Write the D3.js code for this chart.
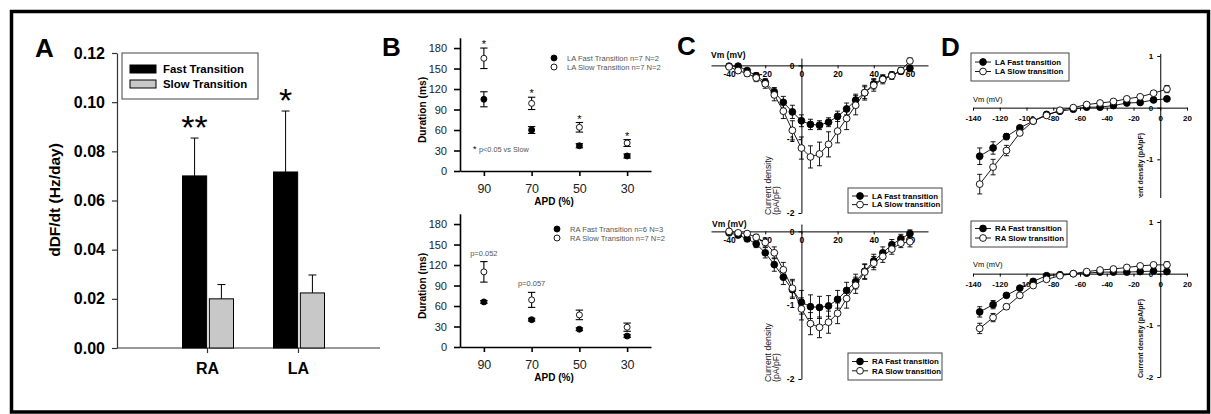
<!DOCTYPE html>
<html><head><meta charset="utf-8">
<script src="https://cdn.jsdelivr.net/npm/d3@7"></script>
<style>body{margin:0;background:#fff}svg{display:block}</style>
</head><body><svg id="c" width="1211" height="414"></svg>
<script>
// ---------- DATA ----------
const barCategories = ["RA", "LA"];
const barSeries = ["Fast Transition", "Slow Transition"];
const barFast = [0.0700, 0.0716];
const barFastErr = [0.0154, 0.0248];
const barSlow = [0.0200, 0.0224];
const barSlowErr = [0.0058, 0.0073];
const barYTicks = [0, 0.02, 0.04, 0.06, 0.08, 0.10, 0.12];
const barStars = ["**", "*"];

const apdCategories = [90, 70, 50, 30];
const apdYTicks = [0, 30, 60, 90, 120, 150, 180];
const laApdFast = [105, 60, 37, 22];
const laApdFastErr = [11, 5, 3, 3];
const laApdSlow = [165, 99, 64, 41];
const laApdSlowErr = [15, 9, 7, 5];
const laApdStars = ["*", "*", "*", "*"];
const laApdLegend = ["LA Fast Transition n=7 N=2", "LA Slow Transition n=7 N=2"];
const raApdFast = [66, 40, 26, 16];
const raApdFastErr = [2, 2, 2, 2];
const raApdSlow = [110, 69, 47, 29];
const raApdSlowErr = [15, 11, 7, 6];
const raApdNotes = ["p=0.052", "p=0.057", "", ""];
const raApdLegend = ["RA Fast Transition n=6 N=3", "RA Slow Transition n=7 N=2"];

const naVoltages = [-40, -35, -30, -25, -20, -15, -10, -5, 0, 5, 10, 15, 20, 25, 30, 35, 40, 45, 50, 55, 60];
const naXTicks = [-40, -20, 0, 20, 40, 60];
const naYTicks = [0, -1, -2];
const laNaFast = [-0.01, -0.01, -0.07, -0.14, -0.23, -0.36, -0.50, -0.63, -0.75, -0.80, -0.81, -0.77, -0.69, -0.59, -0.47, -0.37, -0.25, -0.18, -0.13, -0.08, -0.04];
const laNaFastErr = [0.02, 0.02, 0.03, 0.04, 0.05, 0.06, 0.08, 0.09, 0.08, 0.07, 0.06, 0.06, 0.07, 0.08, 0.08, 0.08, 0.07, 0.05, 0.04, 0.04, 0.03];
const laNaSlow = [-0.02, -0.07, -0.11, -0.17, -0.25, -0.40, -0.62, -0.88, -1.12, -1.24, -1.20, -1.07, -0.89, -0.72, -0.54, -0.37, -0.27, -0.19, -0.14, -0.07, 0.06];
const laNaSlowErr = [0.02, 0.03, 0.04, 0.05, 0.06, 0.08, 0.10, 0.13, 0.15, 0.15, 0.16, 0.17, 0.16, 0.15, 0.13, 0.10, 0.08, 0.06, 0.05, 0.04, 0.04];
const laNaLegend = ["LA Fast transition", "LA Slow transition"];
const raNaFast = [-0.02, -0.05, -0.10, -0.17, -0.29, -0.45, -0.62, -0.79, -0.96, -1.02, -1.03, -1.01, -0.92, -0.80, -0.68, -0.54, -0.40, -0.29, -0.18, -0.10, -0.03];
const raNaFastErr = [0.02, 0.03, 0.04, 0.05, 0.07, 0.09, 0.10, 0.12, 0.16, 0.16, 0.15, 0.14, 0.12, 0.11, 0.10, 0.10, 0.09, 0.08, 0.07, 0.06, 0.05];
const raNaSlow = [0.00, -0.02, -0.03, -0.08, -0.15, -0.29, -0.52, -0.77, -1.05, -1.25, -1.30, -1.23, -1.11, -0.91, -0.73, -0.55, -0.43, -0.34, -0.24, -0.16, -0.14];
const raNaSlowErr = [0.02, 0.02, 0.03, 0.04, 0.06, 0.08, 0.10, 0.12, 0.15, 0.15, 0.14, 0.15, 0.14, 0.13, 0.11, 0.10, 0.09, 0.08, 0.07, 0.06, 0.07];
const raNaLegend = ["RA Fast transition", "RA Slow transition"];

const kVoltages = [-135, -125, -115, -105, -95, -85, -75, -65, -55, -45, -35, -25, -15, -5, 5];
const kXTicks = [-140, -120, -100, -80, -60, -40, -20, 0, 20];
const kYTicks = [1, 0, -1, -2];
const laKFast = [-0.94, -0.78, -0.56, -0.39, -0.26, -0.13, -0.07, -0.03, 0.01, 0.01, 0.04, 0.09, 0.10, 0.15, 0.17];
const laKFastErr = [0.16, 0.12, 0.06, 0.04, 0.03, 0.03, 0.02, 0.02, 0.02, 0.02, 0.02, 0.02, 0.02, 0.02, 0.03];
const laKSlow = [-1.48, -1.15, -0.83, -0.49, -0.26, -0.15, -0.05, 0.00, 0.06, 0.09, 0.12, 0.17, 0.21, 0.28, 0.36];
const laKSlowErr = [0.19, 0.15, 0.10, 0.05, 0.03, 0.03, 0.02, 0.02, 0.02, 0.02, 0.02, 0.03, 0.03, 0.05, 0.07];
const laKLegend = ["LA Fast transition", "LA Slow transition"];
const raKFast = [-0.74, -0.60, -0.42, -0.28, -0.15, -0.04, -0.02, 0.00, 0.01, 0.03, 0.03, 0.03, 0.04, 0.05, 0.04];
const raKFastErr = [0.10, 0.08, 0.04, 0.03, 0.02, 0.02, 0.02, 0.02, 0.02, 0.02, 0.02, 0.02, 0.02, 0.02, 0.02];
const raKSlow = [-1.06, -0.85, -0.64, -0.42, -0.23, -0.11, -0.04, 0.00, 0.04, 0.07, 0.09, 0.12, 0.15, 0.17, 0.17];
const raKSlowErr = [0.10, 0.08, 0.05, 0.04, 0.03, 0.02, 0.02, 0.02, 0.02, 0.02, 0.02, 0.03, 0.03, 0.04, 0.06];
const raKLegend = ["RA Fast transition", "RA Slow transition"];

// ---------- DRAWING ----------
const FONT = '"Liberation Sans", Arial, Helvetica, sans-serif';
const svg = d3.select("#c").attr("font-family", FONT);
svg.append("rect").attr("width", 1211).attr("height", 414).attr("fill", "#fff");

function styleAxis(sel, size, weight, color, stroke, sw) {
  sel.attr("font-family", FONT).attr("font-size", size).attr("font-weight", weight);
  sel.selectAll("text").attr("fill", color);
  sel.selectAll("line,path").attr("stroke", stroke).attr("stroke-width", sw);
}

// panel letters
[["A", 35, 57], ["B", 382, 56], ["C", 677, 55], ["D", 941, 56]].forEach(([t, x, y]) => {
  svg.append("text").attr("x", x).attr("y", y).attr("font-size", 26).attr("font-weight", "bold").text(t);
});

// ===== Panel A =====
(function () {
  const g = svg.append("g");
  const y = d3.scaleLinear().domain([0, 0.12]).range([348, 53]);
  const x = d3.scalePoint().domain(barCategories).range([207, 298]);
  const sub = d3.scaleBand().domain(barSeries).range([-24.5, 26.5]).paddingInner(0.1);
  const bw = sub.bandwidth();

  g.append("line").attr("x1", 117).attr("x2", 380).attr("y1", 348).attr("y2", 348).attr("stroke", "#333").attr("stroke-width", 1.2);
  const ya = g.append("g").attr("transform", "translate(117,0)")
    .call(d3.axisLeft(y).tickValues(barYTicks).tickFormat(d3.format(".2f")).tickSize(5).tickSizeOuter(0).tickPadding(7));
  styleAxis(ya, 16, "bold", "#000", "#333", 1.2);
  const xa = g.append("g").attr("transform", "translate(0,348)")
    .call(d3.axisBottom(x).tickSize(5).tickSizeOuter(0).tickPadding(10));
  xa.select(".domain").remove();
  styleAxis(xa, 16, "bold", "#000", "#333", 1.2);

  const series = [
    { name: barSeries[0], vals: barFast, errs: barFastErr, fill: "#000" },
    { name: barSeries[1], vals: barSlow, errs: barSlowErr, fill: "#c8c8c8" }
  ];
  series.forEach(s => {
    barCategories.forEach((c, i) => {
      const x0 = x(c) + sub(s.name);
      const cx = x0 + bw / 2;
      g.append("line").attr("x1", cx).attr("x2", cx).attr("y1", y(s.vals[i])).attr("y2", y(s.vals[i] + s.errs[i])).attr("stroke", "#000");
      g.append("line").attr("x1", cx - 4).attr("x2", cx + 4).attr("y1", y(s.vals[i] + s.errs[i])).attr("y2", y(s.vals[i] + s.errs[i])).attr("stroke", "#000");
      g.append("rect").attr("x", x0).attr("y", y(s.vals[i])).attr("width", bw).attr("height", y(0) - y(s.vals[i]))
        .attr("fill", s.fill).attr("stroke", "#000").attr("stroke-width", 1);
    });
  });
  barCategories.forEach((c, i) => {
    g.append("text").attr("x", x(c) + sub(barSeries[0]) + bw / 2).attr("y", y(barFast[i] + barFastErr[i]) + 1)
      .attr("text-anchor", "middle").attr("font-size", 34).text(barStars[i]);
  });
  // legend
  g.append("rect").attr("x", 122).attr("y", 53).attr("width", 136).attr("height", 46).attr("fill", "#fff").attr("stroke", "#444");
  series.forEach((s, i) => {
    g.append("rect").attr("x", 130).attr("y", 65 + i * 15).attr("width", 26).attr("height", 8).attr("fill", s.fill).attr("stroke", "#000");
    g.append("text").attr("x", 163).attr("y", 73 + i * 15).attr("font-size", 11.4).attr("font-weight", "bold").text(s.name);
  });
  g.append("text").attr("transform", "translate(60,200) rotate(-90)").attr("text-anchor", "middle")
    .attr("font-size", 15.5).attr("font-weight", "bold").text("dDF/dt (Hz/day)");
})();

// ===== Panel B =====
function apdPanel(o) {
  const g = svg.append("g");
  const x = d3.scaleLinear().domain([100, 20]).range([460, 651]);
  const y = d3.scaleLinear().domain([0, 195]).range([o.y0, o.y0 - 133.2]);
  const ya = g.append("g").attr("transform", "translate(460,0)")
    .call(d3.axisLeft(y).tickValues(apdYTicks).tickSize(6).tickSizeOuter(0).tickPadding(7));
  styleAxis(ya, 11, "normal", "#222", "#000", 1.6);
  const xa = g.append("g").attr("transform", `translate(0,${o.y0})`)
    .call(d3.axisBottom(x).tickValues(apdCategories).tickSize(5).tickSizeOuter(0).tickPadding(8));
  styleAxis(xa, 12.5, "normal", "#222", "#000", 1.6);
  g.append("text").attr("x", 554).attr("y", o.y0 + 34).attr("text-anchor", "middle").attr("font-size", 10).attr("font-weight", "bold").text("APD (%)");
  g.append("text").attr("transform", `translate(425.6,${o.y0 - 61}) rotate(-90)`).attr("text-anchor", "middle")
    .attr("font-size", 10.2).attr("font-weight", "bold").text("Duration (ms)");

  const series = [
    { vals: o.slow, errs: o.slowErr, fill: "#fff" },
    { vals: o.fast, errs: o.fastErr, fill: "#000" }
  ];
  series.forEach(s => {
    apdCategories.forEach((c, i) => {
      const cx = x(c), lo = y(s.vals[i] - s.errs[i]), hi = y(s.vals[i] + s.errs[i]);
      g.append("line").attr("x1", cx).attr("x2", cx).attr("y1", lo).attr("y2", hi).attr("stroke", "#000").attr("stroke-width", 1.1);
      [lo, hi].forEach(v => g.append("line").attr("x1", cx - 3.7).attr("x2", cx + 3.7).attr("y1", v).attr("y2", v).attr("stroke", "#000").attr("stroke-width", 1.1));
    });
  });
  series.forEach(s => {
    apdCategories.forEach((c, i) => {
      g.append("circle").attr("cx", x(c)).attr("cy", y(s.vals[i])).attr("r", 3).attr("fill", s.fill).attr("stroke", "#000").attr("stroke-width", 0.9);
    });
  });
  apdCategories.forEach((c, i) => {
    const top = y(o.slow[i] + o.slowErr[i]);
    if (o.stars && o.stars[i]) g.append("text").attr("x", x(c)).attr("y", top).attr("text-anchor", "middle").attr("font-size", 11).text(o.stars[i]);
    if (o.notes && o.notes[i]) g.append("text").attr("x", x(c)).attr("y", top - 6).attr("text-anchor", "middle").attr("font-size", 7.5).attr("fill", "#555").text(o.notes[i]);
  });
  // legend
  [["#000", 0], ["#fff", 1]].forEach(([f, i]) => {
    g.append("circle").attr("cx", o.lx).attr("cy", o.ly + i * 9).attr("r", 3).attr("fill", f).attr("stroke", "#000").attr("stroke-width", 0.9);
    g.append("text").attr("x", o.tx).attr("y", o.ly + i * 9 + 2.7).attr("font-size", 7.6).attr("fill", "#555").text(o.legend[i]);
  });
  if (o.sig) {
    const t = g.append("text").attr("x", 473).attr("y", 152).attr("font-size", 7.3);
    t.append("tspan").attr("font-size", 9).attr("fill", "#000").text("* ");
    t.append("tspan").attr("fill", "#555").text(o.sig);
  }
}
apdPanel({ y0: 171, fast: laApdFast, fastErr: laApdFastErr, slow: laApdSlow, slowErr: laApdSlowErr, stars: laApdStars,
  legend: laApdLegend, lx: 554, ly: 58, tx: 567, sig: "p<0.05 vs Slow" });
apdPanel({ y0: 347, fast: raApdFast, fastErr: raApdFastErr, slow: raApdSlow, slowErr: raApdSlowErr, notes: raApdNotes,
  legend: raApdLegend, lx: 557, ly: 229, tx: 570 });

// ===== Panels C / D (I-V curves) =====
const defs = svg.append("defs");
defs.append("clipPath").attr("id", "clipDtop").append("rect").attr("x", 930).attr("y", 14).attr("width", 270).attr("height", 184);

function ivPanel(o) {
  const g = svg.append("g");
  if (o.clip) g.attr("clip-path", `url(#${o.clip})`);
  const x = d3.scaleLinear().domain(o.xDomain).range(o.xRange);
  const y = d3.scaleLinear().domain(o.yDomain).range(o.yRange);
  const xa = g.append("g").attr("transform", `translate(0,${y(0)})`)
    .call(d3.axisBottom(x).tickValues(o.xTicks).tickFormat(String).tickSize(3).tickSizeOuter(0).tickPadding(o.xPad));
  styleAxis(xa, o.tickFont, "bold", "#000", "#000", 1);
  const ya = g.append("g").attr("transform", `translate(${x(0)},0)`)
    .call(d3.axisLeft(y).tickValues(o.yTicks).tickFormat(String).tickSize(3).tickSizeOuter(0).tickPadding(4));
  styleAxis(ya, o.tickFont, "bold", "#000", "#000", 1);

  g.append("text").attr("x", o.vmX).attr("y", o.vmY).attr("font-size", o.vmSize).attr("font-weight", o.vmWeight).text("Vm (mV)");
  o.yLabel.forEach((t, i) => {
    g.append("text").attr("transform", `translate(${o.ylX + i * 8},${o.ylY}) rotate(-90)`)
      .attr("font-size", o.ylSize).attr("font-weight", o.ylWeight).attr("fill", "#111").text(t);
  });

  const series = [
    { vals: o.fast, errs: o.fastErr, fill: "#000" },
    { vals: o.slow, errs: o.slowErr, fill: "#fff" }
  ];
  const line = d3.line().x((d, i) => x(o.volts[i])).y(d => y(d));
  series.forEach(s => {
    g.append("path").attr("d", line(s.vals)).attr("fill", "none").attr("stroke", "#000").attr("stroke-width", 0.9);
    o.volts.forEach((v, i) => {
      const cx = x(v), lo = y(s.vals[i] - s.errs[i]), hi = y(s.vals[i] + s.errs[i]);
      g.append("line").attr("x1", cx).attr("x2", cx).attr("y1", lo).attr("y2", hi).attr("stroke", "#000").attr("stroke-width", 0.9);
      [lo, hi].forEach(yy => g.append("line").attr("x1", cx - 2.5).attr("x2", cx + 2.5).attr("y1", yy).attr("y2", yy).attr("stroke", "#000").attr("stroke-width", 0.9));
    });
  });
  series.forEach(s => {
    o.volts.forEach((v, i) => {
      g.append("circle").attr("cx", x(v)).attr("cy", y(s.vals[i])).attr("r", 3.4).attr("fill", s.fill).attr("stroke", "#000").attr("stroke-width", 0.9);
    });
  });
  // legend
  const L = o.leg;
  g.append("rect").attr("x", L.x).attr("y", L.y).attr("width", L.w).attr("height", L.h).attr("fill", "#fff").attr("stroke", "#444");
  series.forEach((s, i) => {
    const yy = L.y + L.r0 + i * L.dy;
    g.append("line").attr("x1", L.x + 4).attr("x2", L.x + 20).attr("y1", yy).attr("y2", yy).attr("stroke", "#000").attr("stroke-width", 0.9);
    g.append("circle").attr("cx", L.x + 12).attr("cy", yy).attr("r", 3.4).attr("fill", s.fill).attr("stroke", "#000").attr("stroke-width", 0.9);
    g.append("text").attr("x", L.x + 24).attr("y", yy + 2.8).attr("font-size", 7.8).attr("font-weight", "bold").text(o.legend[i]);
  });
}

ivPanel({ xDomain: [-50, 70], xRange: [711, 928], yDomain: [-2, 0.1], yRange: [213, 58], xTicks: naXTicks, yTicks: naYTicks,
  xPad: 3, tickFont: 8.5, vmX: 711, vmY: 58, vmSize: 8.5, vmWeight: "bold",
  yLabel: ["Current density", "(pA/pF)"], ylX: 771, ylY: 215, ylSize: 8.7, ylWeight: "normal",
  volts: naVoltages, fast: laNaFast, fastErr: laNaFastErr, slow: laNaSlow, slowErr: laNaSlowErr,
  legend: laNaLegend, leg: { x: 848, y: 188, w: 94, h: 25, r0: 8, dy: 8.6 } });
ivPanel({ xDomain: [-50, 70], xRange: [711, 928], yDomain: [-2, 0.1], yRange: [379, 224], xTicks: naXTicks, yTicks: naYTicks,
  xPad: 3, tickFont: 8.5, vmX: 712, vmY: 227, vmSize: 8.5, vmWeight: "bold",
  yLabel: ["Current density", "(pA/pF)"], ylX: 771, ylY: 382, ylSize: 8.7, ylWeight: "normal",
  volts: naVoltages, fast: raNaFast, fastErr: raNaFastErr, slow: raNaSlow, slowErr: raNaSlowErr,
  legend: raNaLegend, leg: { x: 848, y: 353, w: 94, h: 27, r0: 8.5, dy: 9.3 } });
ivPanel({ xDomain: [-140, 20], xRange: [973, 1187], yDomain: [-2, 1.05], yRange: [211, 53.4], xTicks: kXTicks, yTicks: kYTicks,
  xPad: 5, tickFont: 8, vmX: 973, vmY: 102, vmSize: 7.5, vmWeight: "normal",
  yLabel: ["Current density (pA/pF)"], ylX: 1143, ylY: 212, ylSize: 7.1, ylWeight: "bold", clip: "clipDtop",
  volts: kVoltages, fast: laKFast, fastErr: laKFastErr, slow: laKSlow, slowErr: laKSlowErr,
  legend: laKLegend, leg: { x: 971, y: 53, w: 98, h: 28, r0: 9, dy: 9.5 } });
ivPanel({ xDomain: [-140, 20], xRange: [973, 1187], yDomain: [-2, 1.05], yRange: [377, 219.4], xTicks: kXTicks, yTicks: kYTicks,
  xPad: 5, tickFont: 8, vmX: 973, vmY: 267, vmSize: 7.5, vmWeight: "normal",
  yLabel: ["Current density (pA/pF)"], ylX: 1143, ylY: 378, ylSize: 7.1, ylWeight: "bold",
  volts: kVoltages, fast: raKFast, fastErr: raKFastErr, slow: raKSlow, slowErr: raKSlowErr,
  legend: raKLegend, leg: { x: 971, y: 221, w: 96, h: 26, r0: 7.5, dy: 9.5 } });

// outer frame
svg.append("rect").attr("x", 11.5).attr("y", 11.5).attr("width", 1197).attr("height", 400.5)
  .attr("fill", "none").attr("stroke", "#000").attr("stroke-width", 3.5);
</script></body></html>
